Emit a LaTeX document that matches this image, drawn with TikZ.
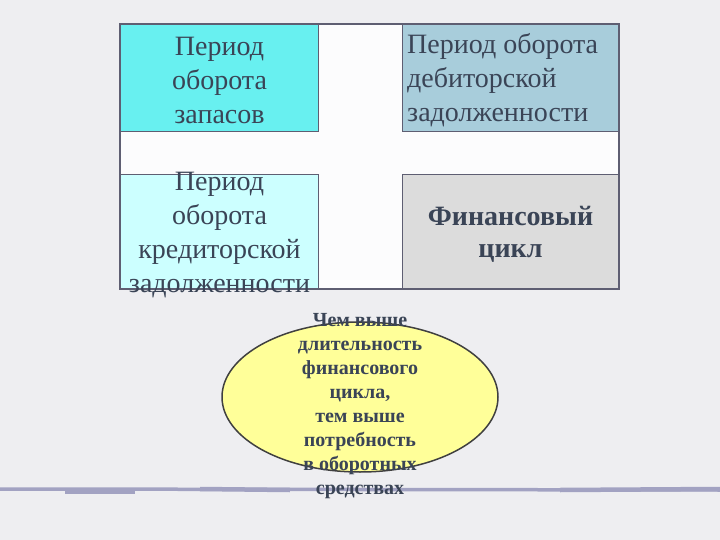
\documentclass[tikz,border=0pt]{standalone}
\usepackage{fontspec}
\setmainfont{Liberation Serif}
\usepackage{tikz}
\usetikzlibrary{shapes.geometric, positioning, calc, backgrounds}

\definecolor{bgc}{HTML}{EEEEF1}
\definecolor{inkc}{HTML}{3A4456}
\definecolor{framec}{HTML}{5E5E72}
\definecolor{zapc}{HTML}{68F0F0}
\definecolor{debc}{HTML}{A8CDDB}
\definecolor{kredc}{HTML}{CCFFFF}
\definecolor{finc}{HTML}{DCDCDC}
\definecolor{ovalc}{HTML}{FFFF99}
\definecolor{rulec}{HTML}{A2A2C2}

\tikzset{
	box/.style={draw=framec, line width=1pt, minimum width=198pt, inner sep=0pt, anchor=north west},
	txt/.style={text=inkc, font=\fontsize{28}{34}\selectfont, align=center, inner sep=0pt},
	boldtxt/.style={text=inkc, font=\fontsize{28}{32}\selectfont\bfseries, align=center, inner sep=0pt},
	ovaltxt/.style={text=inkc, font=\fontsize{20}{24}\selectfont\bfseries, align=center, inner sep=0pt}
}

\begin{document}
\begin{tikzpicture}[x=1pt, y=-1pt]
			
			% four periods
			\node[box, fill=zapc, minimum height=107pt] (zap) at (120,24) {};
			\node[box, fill=debc, minimum width=216pt, minimum height=107pt] (deb) at (402,24) {};
			\node[box, fill=kredc, minimum height=114pt] (kred) at (120,174) {};
			\node[box, fill=finc, minimum width=216pt, minimum height=114pt] (fin) at (402,174) {};
			
			% frame and page behind the boxes
			\begin{scope}[on background layer]
			\fill[bgc] (0,0) rectangle (720,540);
			\draw[framec, line width=1.2pt, fill=white!85!bgc] (zap.north west) rectangle (fin.south east);
			\end{scope}
			\useasboundingbox (0,0) rectangle (720,540);
			
			\node[txt] (zapT) at ($(zap.center)+(0,2)$) {Период\\оборота\\запасов};
			\node[txt, align=left, anchor=west] (debT) at ($(deb.west)+(5,2)$) {Период оборота\\дебиторской\\задолженности};
			\node[txt] (kredT) at ($(kred.center)+(0,4)$) {Период\\оборота\\кредиторской\\задолженности};
			\node[boldtxt] (finT) at ($(fin.center)+(0,3)$) {Финансовый\\цикл};
			
			% conclusion
			\node[ellipse, draw=black!75, line width=1.5pt, fill=ovalc, minimum width=276pt, minimum height=150pt, inner sep=0pt] (oval) at (360,397) {};
			\draw[rulec, line width=3.5pt] (0,489) -- (720,490);
			\draw[rulec, line width=5pt] (65,491) -- (135,491);
			\draw[rulec, line width=4.5pt] (200,489) -- (290,490);
			\draw[rulec, line width=4.5pt] (560,490) -- (720,489);
			\node[ovaltxt] (ovalT) at (360,406) {Чем выше\\длительность\\финансового\\цикла,\\тем выше\\потребность\\в оборотных\\средствах};
			
\end{tikzpicture}
\end{document}
